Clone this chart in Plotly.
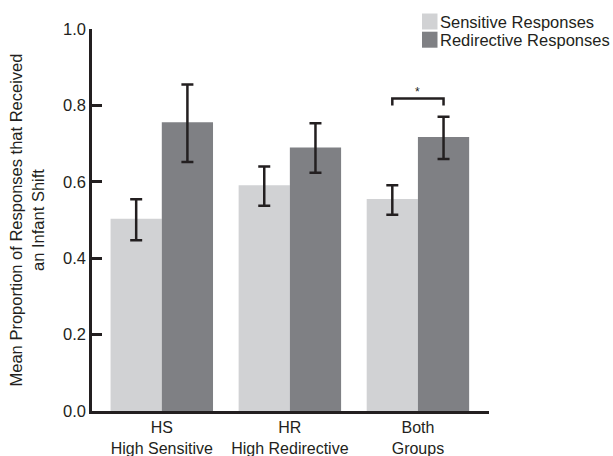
import plotly.graph_objects as go

# ---- data ----
groups = ["HS<br>High Sensitive", "HR<br>High Redirective", "Both<br>Groups"]
group_pos = [0, 1, 2]
sensitive = [0.503, 0.591, 0.555]
sensitive_err_plus = [0.051, 0.049, 0.036]
sensitive_err_minus = [0.056, 0.054, 0.041]
redirective = [0.756, 0.690, 0.717]
redirective_err_plus = [0.099, 0.063, 0.053]
redirective_err_minus = [0.104, 0.066, 0.057]
series_names = ["Sensitive Responses", "Redirective Responses"]
y_ticks = [0.0, 0.2, 0.4, 0.6, 0.8, 1.0]
sig_bracket_x = [1.8, 1.8, 2.2, 2.2]
sig_bracket_y = [0.800, 0.818, 0.818, 0.800]
sig_label = "*"

C_SENS = "#d1d2d4"
C_REDIR = "#7f8084"
C_INK = "#231f20"
FONT = "Liberation Sans, Arial, sans-serif"
FS = 16.5

fig = go.Figure()
fig.add_trace(go.Bar(
    x=group_pos, y=sensitive, name=series_names[0], marker_color=C_SENS,
    marker_line_width=0, showlegend=False,
    error_y=dict(type="data", symmetric=False, array=sensitive_err_plus,
                 arrayminus=sensitive_err_minus, color=C_INK, thickness=2.5, width=6),
))
fig.add_trace(go.Bar(
    x=group_pos, y=redirective, name=series_names[1], marker_color=C_REDIR,
    marker_line_width=0, showlegend=False,
    error_y=dict(type="data", symmetric=False, array=redirective_err_plus,
                 arrayminus=redirective_err_minus, color=C_INK, thickness=2.5, width=6),
))
fig.add_trace(go.Scatter(
    x=sig_bracket_x, y=sig_bracket_y, mode="lines",
    line=dict(color=C_INK, width=2.5), showlegend=False, hoverinfo="skip",
))
fig.add_annotation(x=2, y=0.818, text=sig_label, showarrow=False, yanchor="bottom",
                   yshift=-2, font=dict(size=12, color=C_INK, family=FONT))

# custom legend (swatch + label); positions given in window pixels
W, H = 397.0, 382.0  # plot area in px
def px_x(p):
    return (p - 92) / W
def px_y(p):
    return (411 - p) / H
legend_rows = [(13.5, C_SENS, series_names[0]), (31.7, C_REDIR, series_names[1])]
for top, col, label in legend_rows:
    fig.add_shape(type="rect", xref="paper", yref="paper",
                  x0=px_x(422), x1=px_x(437.5), y0=px_y(top + 16), y1=px_y(top),
                  fillcolor=col, line_width=0)
    fig.add_annotation(xref="paper", yref="paper", x=px_x(438), y=px_y(top + 8),
                       text=label, showarrow=False, xanchor="left", yanchor="middle",
                       font=dict(size=FS, color=C_INK, family=FONT))

fig.update_layout(
    width=613, height=456,
    margin=dict(l=92, r=124, t=29, b=45),
    plot_bgcolor="white", paper_bgcolor="white",
    barmode="group", bargap=0.2, bargroupgap=0,
    font=dict(family=FONT, size=FS, color=C_INK),
    xaxis=dict(
        range=[-0.545, 2.555], tickmode="array", tickvals=group_pos, ticktext=groups,
        showline=True, linecolor=C_INK, linewidth=2.5, ticks="", showgrid=False,
        zeroline=False, tickfont=dict(size=16), automargin=False,
    ),
    yaxis=dict(
        range=[0, 1.0], tickmode="array", tickvals=y_ticks,
        ticktext=[f"{v:.1f}" for v in y_ticks],
        showline=True, linecolor=C_INK, linewidth=2.5, ticks="inside", ticklen=10,
        tickwidth=2.5, tickcolor=C_INK, showgrid=False, zeroline=False,
        tickfont=dict(size=FS), automargin=False,
        title=dict(text="Mean Proportion of Responses that Received<br>an Infant Shift",
                   font=dict(size=FS), standoff=15),
    ),
)

# remove the page's default body margin so the figure sits at the window origin
fig.write_html(
    "out.html",
    config={"displayModeBar": False},
    post_script="document.body.style.margin='0';document.body.style.overflow='hidden';",
)
